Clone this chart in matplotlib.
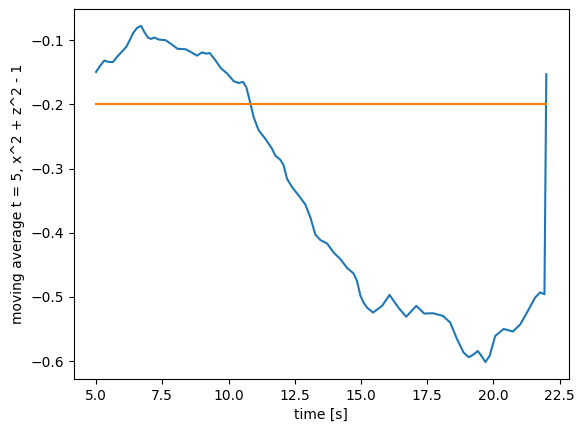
import numpy as np
import matplotlib
matplotlib.use("Agg")
import matplotlib.pyplot as plt

# moving average curve
t = [5.0, 5.14, 5.31, 5.48, 5.64, 5.79, 5.97, 6.14, 6.27, 6.4, 6.55, 6.7,
     6.82, 6.95, 7.08, 7.2, 7.36, 7.62, 7.8, 8.08, 8.37, 8.56, 8.81, 9.0,
     9.15, 9.29, 9.5, 9.72, 9.95, 10.2, 10.38, 10.55, 10.67, 10.8, 10.95,
     11.14, 11.39, 11.64, 11.77, 11.96, 12.08, 12.21, 12.4, 12.65, 12.9,
     13.09, 13.28, 13.47, 13.72, 13.97, 14.22, 14.48, 14.72, 14.85, 14.98,
     15.1, 15.23, 15.46, 15.8, 16.08, 16.42, 16.71, 17.09, 17.39, 17.72,
     18.1, 18.37, 18.63, 18.88, 19.07, 19.25, 19.41, 19.53, 19.7, 19.86,
     20.07, 20.39, 20.74, 21.02, 21.27, 21.58, 21.77, 21.93, 22.0]
avg = [-0.1495, -0.1406, -0.1317, -0.134, -0.134, -0.126, -0.118, -0.1104,
       -0.100, -0.0886, -0.0808, -0.0777, -0.087, -0.0958, -0.098, -0.0958,
       -0.099, -0.100, -0.105, -0.1135, -0.114, -0.118, -0.124, -0.119,
       -0.121, -0.120, -0.131, -0.144, -0.152, -0.164, -0.1667, -0.165,
       -0.173, -0.194, -0.220, -0.2406, -0.2536, -0.269, -0.280, -0.2865,
       -0.295, -0.316, -0.329, -0.342, -0.356, -0.376, -0.403, -0.4115,
       -0.4167, -0.431, -0.441, -0.455, -0.4635, -0.475, -0.498, -0.509,
       -0.5167, -0.5245, -0.514, -0.497, -0.517, -0.531, -0.514, -0.526,
       -0.5255, -0.5297, -0.540, -0.566, -0.587, -0.594, -0.590, -0.5844,
       -0.5906, -0.6016, -0.592, -0.561, -0.550, -0.554, -0.5427, -0.5245,
       -0.501, -0.493, -0.496, -0.153]

ref_t = [5.0, 22.0]
ref_val = [-0.2, -0.2]

fig = plt.figure(figsize=(5.84, 4.32), dpi=100)
ax = fig.add_axes([0.126, 0.123, 0.848, 0.856])
ax.plot(t, avg)
ax.plot(ref_t, ref_val)
ax.set_xlabel('time [s]')
ax.set_ylabel('moving average t = 5, x^2 + z^2 - 1')
fig.savefig('out.png', dpi=100)
